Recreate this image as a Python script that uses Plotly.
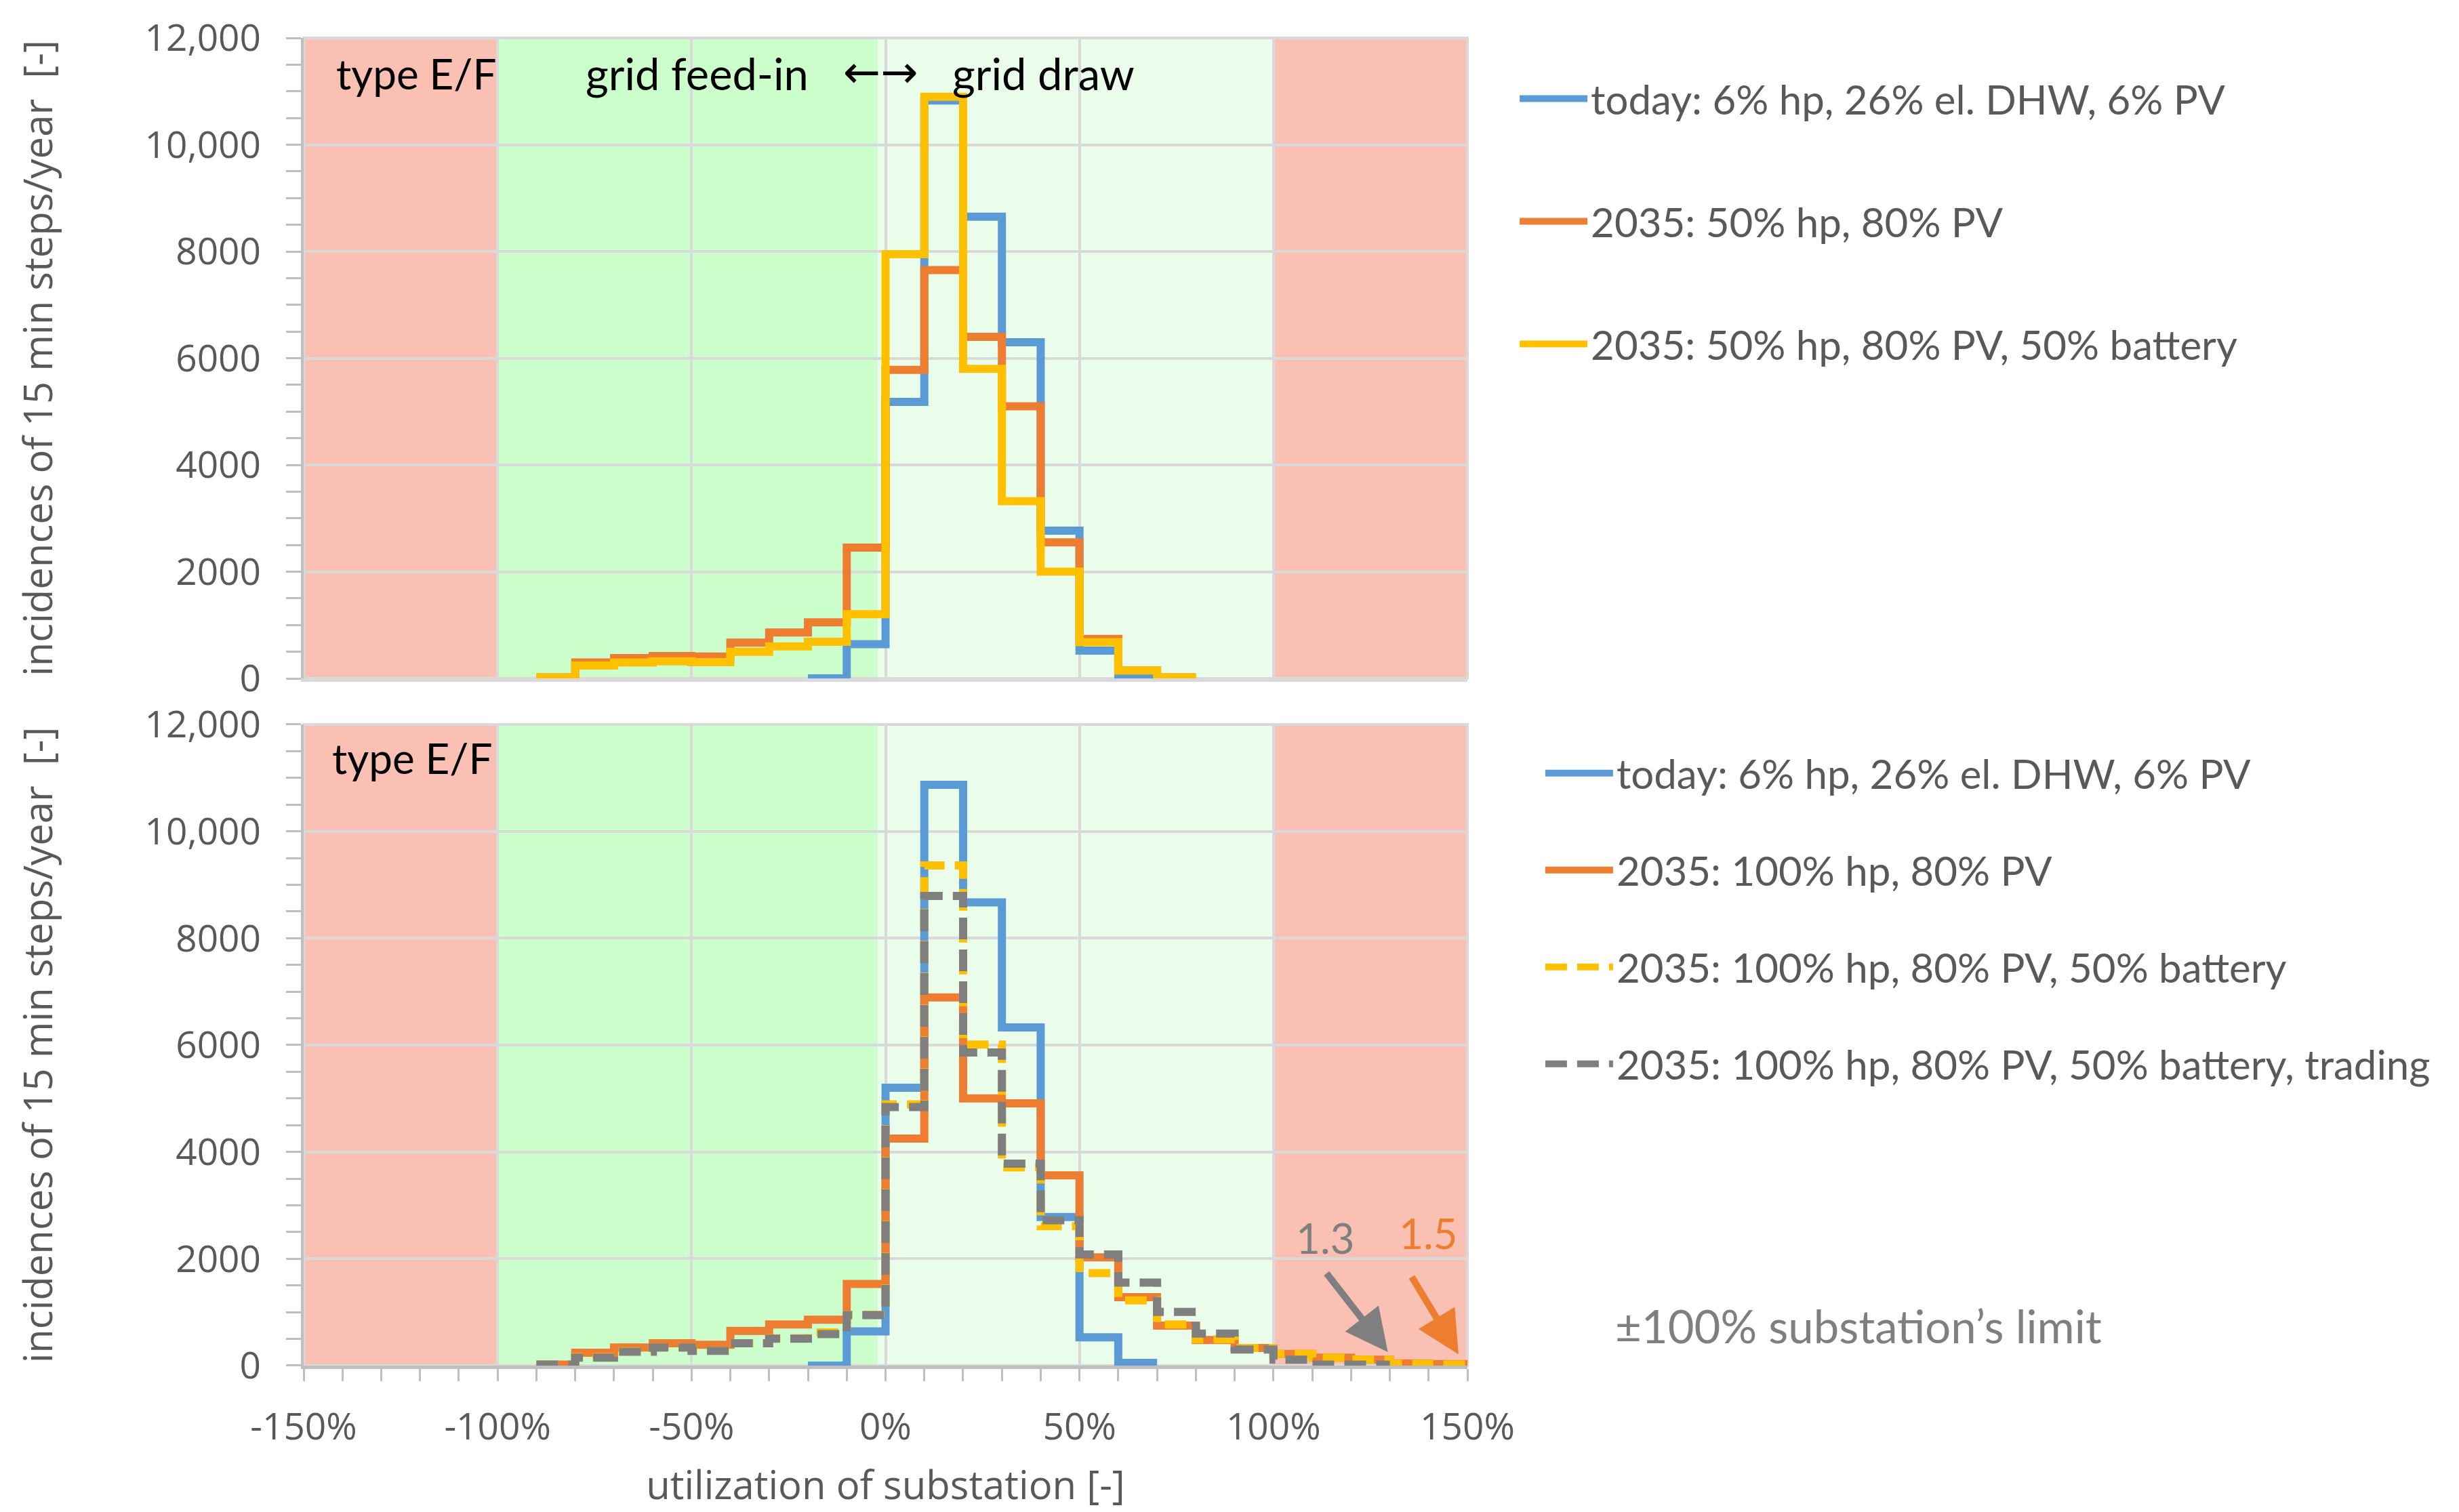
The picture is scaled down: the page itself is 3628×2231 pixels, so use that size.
import plotly.graph_objects as go

# ---------------- data (bin width 10 %, values = incidences per bin) ----------------
BIN = 10
MAJOR_X = [-150, -100, -50, 0, 50, 100, 150]
MAJOR_X_TEXT = ["-150%", "-100%", "-50%", "0%", "50%", "100%", "150%"]
Y_TICKS = [0, 2000, 4000, 6000, 8000, 10000, 12000]
Y_TICK_TEXT = ["0", "2000", "4000", "6000", "8000", "10,000", "12,000"]

# top panel
top_names = ["today: 6% hp, 26% el. DHW, 6% PV",
             "2035: 50% hp, 80% PV",
             "2035: 50% hp, 80% PV, 50% battery"]
top_today_start = -20
top_today = [0, 640, 5180, 10830, 8650, 6300, 2770, 520, 40]
top_hp50_start = -90
top_hp50 = [20, 300, 380, 420, 410, 670, 860, 1050, 2450,
            5780, 7650, 6400, 5100, 2550, 740, 150, 20]
top_hp50_bat_start = -90
top_hp50_bat = [20, 240, 300, 320, 305, 500, 600, 685, 1205,
                7950, 10900, 5800, 3320, 2000, 680, 150, 20]

# bottom panel
bot_names = ["today: 6% hp, 26% el. DHW, 6% PV",
             "2035: 100% hp, 80% PV",
             "2035: 100% hp, 80% PV, 50% battery",
             "2035: 100% hp, 80% PV, 50% battery, trading"]
bot_today_start = -20
bot_today = [0, 640, 5200, 10870, 8670, 6330, 2780, 530, 50]
bot_hp100_start = -90
bot_hp100 = [20, 240, 340, 420, 390, 650, 770, 860, 1530,
             4250, 6890, 5000, 4910, 3560, 2025, 1280, 750,
             480, 330, 220, 150, 110, 40, 30]
bot_hp100_bat_start = -90
bot_hp100_bat = [20, 160, 270, 340, 280, 420, 510, 620, 950,
                 4890, 9360, 6010, 3710, 2610, 1730, 1220, 770,
                 490, 330, 220, 150, 110, 35, 22]
bot_trading_start = -90
bot_trading = [20, 150, 260, 340, 275, 420, 505, 590, 945,
               4840, 8790, 5860, 3780, 2720, 2080, 1555, 1005,
               600, 300, 110, 20, 20]

# zones (utilization in %)
zone_red = [(-150, -100), (100, 150)]
zone_feed = (-100, -2)
zone_draw = (-2, 100)

BLUE, ORANGE, YELLOW, GRAY = "#5B9BD5", "#ED7D31", "#FFC000", "#7F7F7F"
TXT = "#595959"
GRID = "#D9D9D9"
AXL = "#BFBFBF"


def steps(start, vals):
    xs = [start + i * BIN for i in range(len(vals) + 1)]
    ys = list(vals) + [vals[-1]]
    return xs, ys


fig = go.Figure()

def add(start, vals, name, color, dash, xa, ya, leg, grp):
    xs, ys = steps(start, vals)
    fig.add_trace(go.Scatter(
        x=xs, y=ys, mode="lines", line_shape="hv", name=name,
        line=dict(color=color, width=12, dash=dash),
        xaxis=xa, yaxis=ya, legend=leg, legendgroup=grp, hoverinfo="skip"))

add(top_today_start, top_today, top_names[0], BLUE, "solid", "x", "y", "legend", "t1")
add(top_hp50_start, top_hp50, top_names[1], ORANGE, "solid", "x", "y", "legend", "t2")
add(top_hp50_bat_start, top_hp50_bat, top_names[2], YELLOW, "solid", "x", "y", "legend", "t3")

DASH = "32px,15px"
add(bot_today_start, bot_today, bot_names[0], BLUE, "solid", "x2", "y2", "legend2", "b1")
add(bot_hp100_start, bot_hp100, bot_names[1], ORANGE, "solid", "x2", "y2", "legend2", "b2")
add(bot_hp100_bat_start, bot_hp100_bat, bot_names[2], YELLOW, DASH, "x2", "y2", "legend2", "b3")
add(bot_trading_start, bot_trading, bot_names[3], GRAY, DASH, "x2", "y2", "legend2", "b4")

# ---------------- background zones ----------------
shapes = []
for xr, yr in (("x", "y domain"), ("x2", "y2 domain")):
    for a, b in zone_red:
        shapes.append(dict(type="rect", xref=xr, yref=yr, x0=a, x1=b, y0=0, y1=1,
                           fillcolor="#FBC0B4", line_width=0, layer="below"))
    shapes.append(dict(type="rect", xref=xr, yref=yr, x0=zone_feed[0], x1=zone_feed[1],
                       y0=0, y1=1, fillcolor="#CCFFCC", line_width=0, layer="below"))
    shapes.append(dict(type="rect", xref=xr, yref=yr, x0=zone_draw[0], x1=zone_draw[1],
                       y0=0, y1=1, fillcolor="#EAFDEA", line_width=0, layer="below"))
    shapes.append(dict(type="rect", xref=xr + " domain", yref=yr,
                       x0=0, x1=1, y0=0, y1=1, fillcolor="rgba(0,0,0,0)",
                       line=dict(color=GRID, width=4), layer="below"))

TICKFONT = dict(family="Open Sans, sans-serif", size=55, color=TXT)
TITLEFONT = dict(family="Open Sans, sans-serif", size=58, color=TXT)
ANNFONT = dict(family="Lato, sans-serif", size=62, color="black")


def yaxis(domain, anchor):
    return dict(domain=domain, anchor=anchor, range=[0, 12000],
                tickmode="array", tickvals=Y_TICKS, ticktext=Y_TICK_TEXT,
                ticks="outside", ticklen=22, tickwidth=3, tickcolor=AXL,
                minor=dict(tickmode="linear", tick0=0, dtick=500, ticks="outside",
                           ticklen=22, tickwidth=3, tickcolor=AXL, showgrid=False),
                showgrid=True, gridcolor=GRID, gridwidth=4, zeroline=False,
                showline=True, linecolor=AXL, linewidth=4,
                tickfont=TICKFONT, ticklabelstandoff=26,
                title=dict(text="incidences of 15 min steps/year \u00a0[-]",
                           font=TITLEFONT, standoff=118),
                automargin=False, fixedrange=True)


fig.update_layout(
    width=3628, height=2231,
    margin=dict(l=440, r=1471, t=48, b=224),
    paper_bgcolor="white", plot_bgcolor="white",
    shapes=shapes,
    xaxis=dict(domain=[0, 1], anchor="y", range=[-150, 150],
               tickmode="array", tickvals=MAJOR_X, ticktext=MAJOR_X_TEXT,
               showticklabels=False, ticks="",
               showgrid=True, gridcolor=GRID, gridwidth=4, zeroline=False,
               showline=True, linecolor=GRID, linewidth=5, automargin=False),
    yaxis=yaxis([0.5176, 1.0], "x"),
    xaxis2=dict(domain=[0, 1], anchor="y2", range=[-150, 150],
                tickmode="array", tickvals=MAJOR_X, ticktext=MAJOR_X_TEXT,
                ticks="outside", ticklen=18, tickwidth=3, tickcolor=AXL,
                minor=dict(tickmode="linear", tick0=0, dtick=10, ticks="outside",
                           ticklen=18, tickwidth=3, tickcolor=AXL, showgrid=False),
                showgrid=True, gridcolor=GRID, gridwidth=4, zeroline=False,
                showline=True, linecolor=AXL, linewidth=5,
                tickfont=TICKFONT, ticklabelstandoff=20,
                title=dict(text="utilization of substation [-]", font=TITLEFONT, standoff=34),
                automargin=False),
    yaxis2=yaxis([0.0, 0.4829], "x2"),
    legend=dict(x=1.042, xanchor="left", y=0.9775, yanchor="top",
                font=dict(family="Lato, sans-serif", size=60, color=TXT),
                itemwidth=100,
                tracegroupgap=100, bgcolor="rgba(0,0,0,0)", itemclick=False),
    legend2=dict(x=1.064, xanchor="left", y=0.4695, yanchor="top",
                 font=dict(family="Lato, sans-serif", size=60, color=TXT),
                 itemwidth=100,
                 tracegroupgap=62, bgcolor="rgba(0,0,0,0)", itemclick=False),
    showlegend=True,
)

# ---------------- annotations ----------------
ann = []
ann.append(dict(text="type E/F", x=-121, y=0.945, xref="x", yref="y domain",
                yanchor="middle", showarrow=False, font=ANNFONT))
ann.append(dict(text="type E/F", x=-122, y=0.948, xref="x2", yref="y2 domain",
                yanchor="middle", showarrow=False, font=ANNFONT))
ann.append(dict(text="grid feed-in", x=-19.5, y=0.945, xref="x", yref="y domain",
                xanchor="right", yanchor="middle", showarrow=False,
                font=dict(family="Lato, sans-serif", size=65, color="black")))
ann.append(dict(text="\u2190\u2192", x=-1.2, y=0.947, xref="x", yref="y domain",
                yanchor="middle", showarrow=False,
                font=dict(family="DejaVu Sans, sans-serif", size=66, color="black")))
ann.append(dict(text="grid draw", x=16.8, y=0.945, xref="x", yref="y domain",
                xanchor="left", yanchor="middle", showarrow=False,
                font=dict(family="Lato, sans-serif", size=65, color="black")))
ann.append(dict(text="\u00b1100% substation\u2019s limit", x=1.336, y=0.030,
                xref="paper", yref="paper", xanchor="center", yanchor="middle",
                showarrow=False,
                font=dict(family="Lato, sans-serif", size=67, color=GRAY)))

gray_end = bot_trading_start + BIN * len(bot_trading)
orange_end = bot_hp100_start + BIN * len(bot_hp100)
ann.append(dict(text=f"{gray_end/100:.1f}", x=113.4, y=2400, xref="x2", yref="y2",
                showarrow=False, font=dict(family="Lato, sans-serif", size=62, color=GRAY)))
ann.append(dict(text=f"{orange_end/100:.1f}", x=140, y=2480, xref="x2", yref="y2",
                showarrow=False, font=dict(family="Lato, sans-serif", size=62, color=ORANGE)))
ann.append(dict(text="", x=gray_end - 0.5, y=255, xref="x2", yref="y2",
                ax=113.5, ay=1745, axref="x2", ayref="y2", showarrow=True,
                arrowhead=2, arrowsize=1.25, arrowwidth=10, arrowcolor=GRAY, standoff=0))
ann.append(dict(text="", x=orange_end - 2.3, y=213, xref="x2", yref="y2",
                ax=135.5, ay=1680, axref="x2", ayref="y2", showarrow=True,
                arrowhead=2, arrowsize=1.25, arrowwidth=10, arrowcolor=ORANGE, standoff=0))
fig.update_layout(annotations=ann)

fig.write_html("out.html")
